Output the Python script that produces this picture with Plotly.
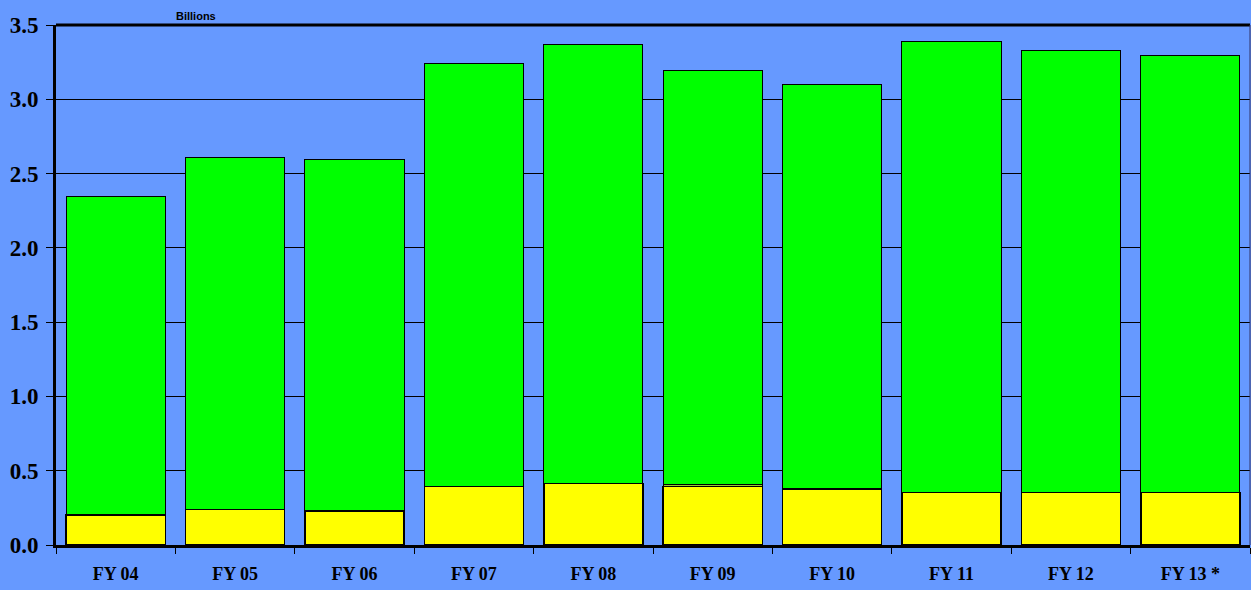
import plotly.graph_objects as go

categories = ["FY 04", "FY 05", "FY 06", "FY 07", "FY 08", "FY 09", "FY 10", "FY 11", "FY 12", "FY 13 *"]
yellow_vals = [0.202, 0.242, 0.229, 0.397, 0.415, 0.394, 0.377, 0.352, 0.352, 0.352]
other_vals = [0, 0, 0, 0, 0, 0.014, 0, 0, 0, 0]
totals = [2.345, 2.605, 2.598, 3.242, 3.372, 3.192, 3.101, 3.388, 3.330, 3.298]
green_vals = [t - y - o for t, y, o in zip(totals, yellow_vals, other_vals)]

fig = go.Figure()
fig.add_trace(go.Bar(x=categories, y=yellow_vals, marker=dict(color="#FFFF00", line=dict(color="black", width=1.5))))
fig.add_trace(go.Bar(x=categories, y=other_vals, marker=dict(color="#99CC33", line=dict(color="black", width=1))))
fig.add_trace(go.Bar(x=categories, y=green_vals, marker=dict(color="#00FF00", line=dict(color="black", width=1))))

fig.update_layout(
    barmode="stack",
    bargap=0.17,
    width=1251, height=590,
    margin=dict(l=56, r=1, t=25, b=45),
    paper_bgcolor="#6699FF",
    plot_bgcolor="#6699FF",
    showlegend=False,
    xaxis=dict(
        showgrid=False,
        showline=True, linecolor="black", linewidth=3,
        ticks="outside", tickson="boundaries", ticklen=6, tickcolor="black",
        ticklabelstandoff=10,
        tickfont=dict(family="Liberation Serif", size=18, color="black", weight="bold"),
    ),
    yaxis=dict(
        range=[0, 3.5],
        tickvals=[0, 0.5, 1.0, 1.5, 2.0, 2.5, 3.0, 3.5],
        ticktext=["0.0", "0.5", "1.0", "1.5", "2.0", "2.5", "3.0", "3.5"],
        showgrid=True, gridcolor="black", gridwidth=1,
        showline=True, linecolor="black", linewidth=3,
        ticks="outside", ticklen=7, tickcolor="black",
        ticklabelstandoff=3,
        zeroline=False,
        tickfont=dict(family="Liberation Serif", size=23, color="black", weight="bold"),
    ),
    shapes=[
        dict(type="line", xref="paper", yref="paper", x0=0, x1=1, y0=1, y1=1, line=dict(color="black", width=3)),
        dict(type="line", xref="paper", yref="paper", x0=1, x1=1, y0=0, y1=1, line=dict(color="#333366", width=1)),
    ],
    annotations=[
        dict(text="Billions", xref="paper", yref="paper", x=0.117, y=1.0, yanchor="bottom", xanchor="center",
             showarrow=False, yshift=1, font=dict(family="Liberation Sans", size=11, color="black", weight="bold")),
    ],
)

fig.write_html("out.html", config={"displayModeBar": False},
               post_script="document.body.style.margin='0';document.body.style.background='#6699FF';")
